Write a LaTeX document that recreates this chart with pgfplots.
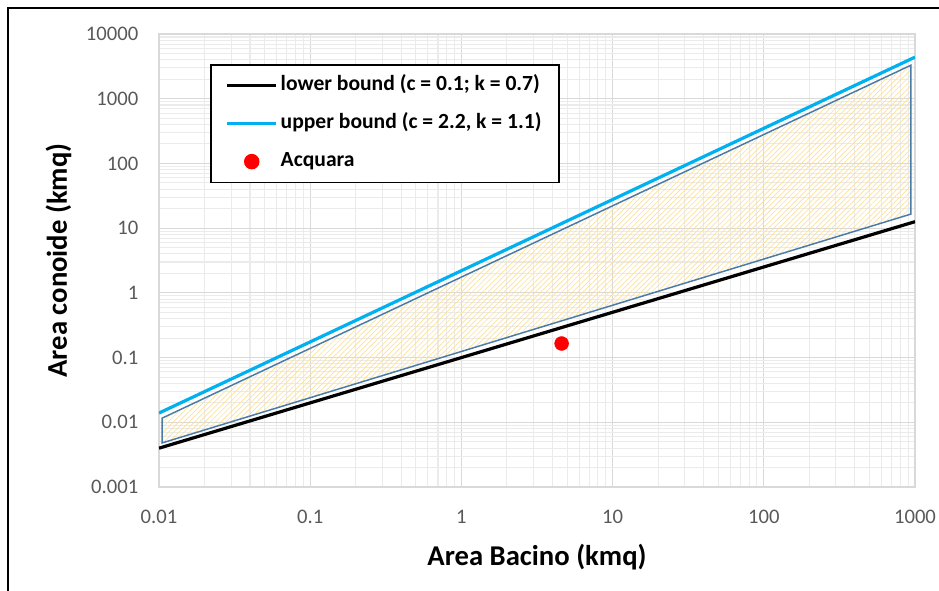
\documentclass[border=0pt]{standalone}
\usepackage{pgfplots}
\pgfplotsset{compat=1.18}
\usepackage{fontspec}
\setmainfont{Carlito}
\usetikzlibrary{patterns.meta}
\definecolor{ticklab}{HTML}{595959}
\definecolor{majgrid}{HTML}{D9D9D9}
\definecolor{mingrid}{HTML}{EBEBEB}
\definecolor{upcol}{HTML}{00B0F0}
\definecolor{polyedge}{HTML}{4A7AA6}
\definecolor{hatch}{HTML}{FBE09A}
\pgfplotsset{
  lineleg/.style={legend image code/.code={\draw[##1] (0pt,0pt) -- (37pt,0pt);}},
  dotleg/.style={legend image code/.code={\draw[##1] plot coordinates {(18.5pt,0pt)};}},
}
\begin{document}
\begin{tikzpicture}
\useasboundingbox (-119.25pt,-77.25pt) rectangle (585pt,365.25pt);
\draw[line width=1.6pt,black] (-113.25pt,-80pt) -- (-113.25pt,359.25pt) -- (590pt,359.25pt);
\begin{axis}[
  at={(0,0)}, anchor=south west,
  scale only axis, width=567pt, height=339.75pt,
  xmode=log, ymode=log,
  xmin=0.01, xmax=1000, ymin=0.001, ymax=10000,
  xtick={0.01,0.1,1,10,100,1000},
  xticklabels={0.01,0.1,1,10,100,1000},
  ytick={0.001,0.01,0.1,1,10,100,1000,10000},
  yticklabels={0.001,0.01,0.1,1,10,100,1000,10000},
  minor xtick={0.02,0.03,0.04,0.05,0.06,0.07,0.08,0.09,
    0.2,0.3,0.4,0.5,0.6,0.7,0.8,0.9,2,3,4,5,6,7,8,9,
    20,30,40,50,60,70,80,90,200,300,400,500,600,700,800,900},
  minor ytick={0.002,0.003,0.004,0.005,0.006,0.007,0.008,0.009,
    0.02,0.03,0.04,0.05,0.06,0.07,0.08,0.09,
    0.2,0.3,0.4,0.5,0.6,0.7,0.8,0.9,2,3,4,5,6,7,8,9,
    20,30,40,50,60,70,80,90,200,300,400,500,600,700,800,900,
    2000,3000,4000,5000,6000,7000,8000,9000},
  grid=both,
  major grid style={majgrid, line width=0.9pt},
  minor grid style={mingrid, line width=0.8pt},
  axis line style={majgrid, line width=0.9pt},
  major tick length=0pt, minor tick length=0pt,
  tick label style={font=\fontsize{15.5}{18}\selectfont, text=ticklab},
  xticklabel style={yshift=-14pt},
  yticklabel style={xshift=-12pt},
  /pgf/number format/assume math mode=true,
  xlabel={\textbf{Area Bacino (kmq)}},
  ylabel={\textbf{Area conoide (kmq)}},
  label style={font=\fontsize{21.5}{25}\selectfont},
  xlabel style={yshift=-8pt},
  ylabel style={yshift=4pt},
  legend style={at={(0.0675,0.934)}, anchor=north west, draw=black, line width=1.2pt,
     font=\bfseries\fontsize{16.2}{19}\selectfont, row sep=8.6pt, inner xsep=11pt, inner ysep=5.5pt,
     nodes={text height=12pt, text depth=4pt},
     cells={anchor=west}},
]
\addplot[draw=polyedge, line width=1.1pt, pattern={Lines[angle=45,distance=2.8pt,line width=0.5pt]}, pattern color=hatch, forget plot]
  coordinates {(0.0105,0.0116) (940,3300) (940,16.5) (0.0105,0.0048)} -- cycle;
\addplot[black, line width=2.4pt, lineleg] coordinates {
(0.01,0.003981) (0.02,0.006465) (0.03,0.008590) (0.05,0.012283) (0.07,0.015544)
(0.1,0.019953) (0.2,0.032413) (0.3,0.043054) (0.5,0.061557) (0.7,0.077898)
(1,0.1) (2,0.16245) (3,0.21577) (5,0.30852) (7,0.39045)
(10,0.50119) (20,0.81418) (30,1.0814) (50,1.5464) (70,1.9564)
(100,2.5119) (200,4.0800) (300,5.4200) (500,7.7500) (700,9.808) (1000,12.589)};
\addlegendentry{lower bound (c = 0.1; k = 0.7)}
\addplot[upcol, line width=2.4pt, lineleg] coordinates {
(0.01,0.013881) (0.02,0.029755) (0.03,0.046486) (0.05,0.081510) (0.07,0.11804)
(0.1,0.17475) (0.2,0.37455) (0.3,0.58520) (0.5,1.0263) (0.7,1.4861)
(1,2.2) (2,4.7157) (3,7.3665) (5,12.922) (7,18.708)
(10,27.696) (20,59.367) (30,92.73) (50,162.66) (70,235.5)
(100,348.7) (200,747.5) (300,1167.6) (500,2047.6) (700,2964.7) (1000,4389.6)};
\addlegendentry{upper bound (c = 2.2, k = 1.1)}
\addplot[only marks, mark=*, mark size=5.2pt, red, mark options={fill=red, draw=red}, dotleg] coordinates {(4.6,0.165)};
\addlegendentry{Acquara}
\end{axis}
\end{tikzpicture}
\end{document}
